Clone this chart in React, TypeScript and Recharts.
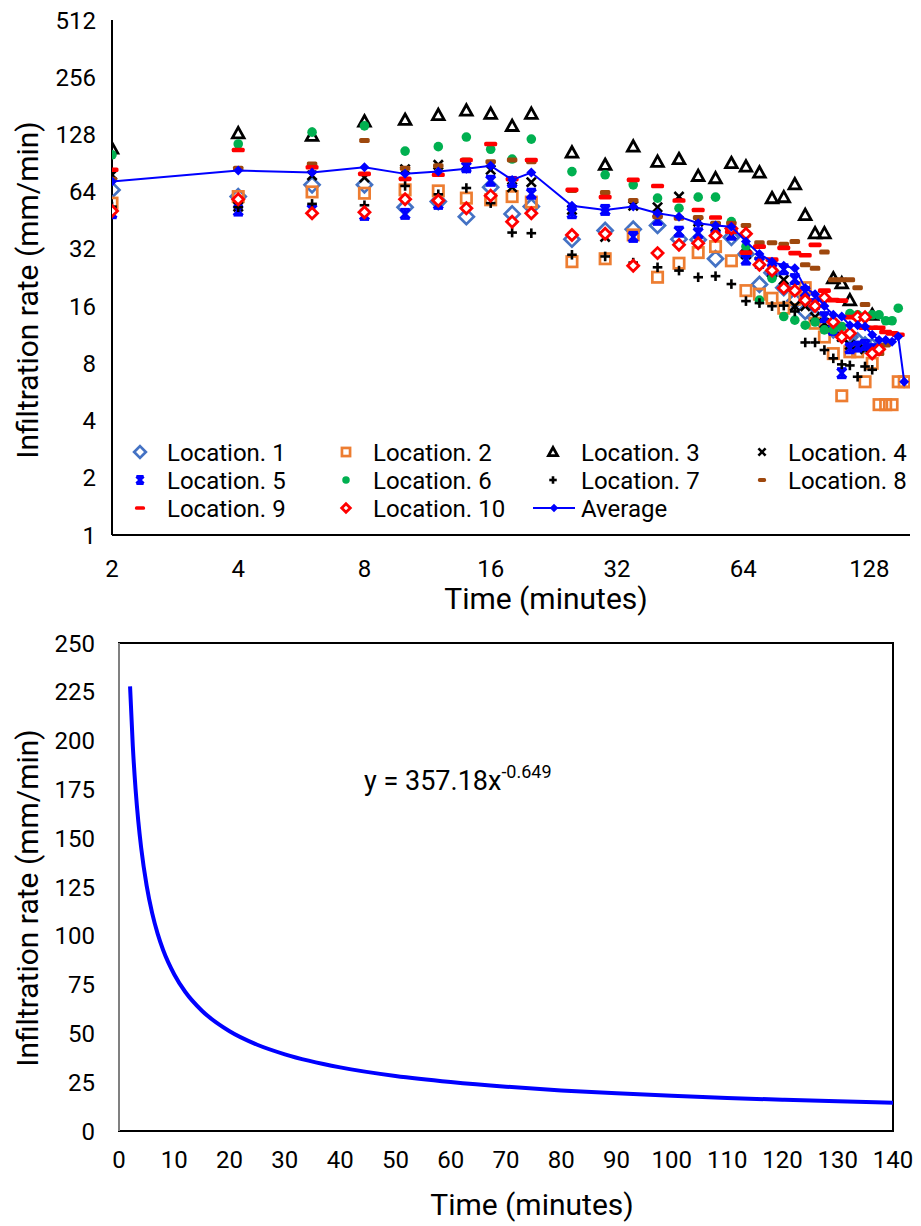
import React from 'react';
import { ScatterChart, Scatter, XAxis, YAxis, LineChart, Line, ReferenceArea, Label } from 'recharts';

const FONT = 'Roboto, "Noto Sans", Arial, sans-serif';

// ---------- top chart data ----------
const TIMES = [2, 4, 6, 8, 10, 12, 14, 16, 18, 20, 25, 30, 35, 40, 45, 50, 55, 60, 65, 70, 75, 80, 85, 90, 95, 100, 105, 110, 115, 120, 125, 130, 135, 140, 145, 150, 155, 160];
const X_TICKS = [2, 4, 8, 16, 32, 64, 128];
const Y_TICKS = [1, 2, 4, 8, 16, 32, 64, 128, 256, 512];

const LOC1 = [65.4, 60.3, 69.5, 69.5, 53, 56.8, 47.3, 67.5, 48.9, 53.4, 36, 40, 40.6, 42.5, 36, 35.7, 28.4, 36.8, 30, 20.8, 24, 20, 17, 15, 14, 13, 12, 11.5, 11, 10.5, 10, 9.8, null, null, null, null, null, null];
const LOC2 = [55.7, 60.3, 63.8, 62.8, 65.4, 64.6, 59.2, 58, 60.3, 56.4, 27.4, 28.4, 37.9, 22.7, 26.9, 30.6, 32.9, 27.7, 19.3, 18.5, 17.6, 15.6, 17.4, 20, 13, 11, 9.0, 5.4, 9.2, 9.2, 6.4, 8.0, 4.85, 4.85, 4.85, 6.4, 6.4, 6.4];
const LOC3 = [108, 130, 126, 150, 152.8, 162, 171, 164.5, 142, 164.5, 102.8, 88.6, 110.6, 92, 95, 77.5, 75.4, 90.5, 86.8, 80.7, 59.2, 59.9, 70, 48.3, 38.7, 38.7, 22.4, 21.1, 17.2, null, null, 14.4, null, null, null, null, null, null];
const LOC4 = [78.5, 53.4, 77.9, 76, 84, 88.6, 88.6, 83.4, 67.5, 71.8, 51.3, 37, 53.9, 53, 60.3, 44.5, 41.9, 37.9, 30, 27.4, 24, 22, 16, 16, 14, 13, 12, 11, 10, 10, 9.5, 9.5, null, null, null, null, null, null];
const LOC5 = [49.3, 50.9, 51.3, 48.3, 48.9, 55.2, 86, 73, 72, 62.4, 49.3, 51.3, 37, 45.5, 39.4, 38.7, 41, 38, 28.1, 27, 25, 25, 22.2, 19, 16.4, 14, 12, 7.1, 9.6, 9.8, 10, 9.5, null, null, null, null, null, null];
const LOC6 = [100, 114, 131.6, 142, 104.6, 110.4, 124, 107, 95, 121, 81.6, 78.5, 69.5, 59.2, 52.4, 59.9, 59.9, 44.5, 32.9, 17.2, 22.4, 14.1, 13.5, 12.7, 13.2, 12, 12, 12.5, 14.6, 14.4, 14.1, 14.4, 14.4, 13.4, 13.4, 15.6, null, null];
const LOC7 = [53.4, 53, 55.2, 54.3, 68.6, 62, 66.9, 55.7, 39, 38.7, 29.8, 29.2, 27.1, 25.6, 24.6, 22.7, 23, 20.9, 17, 16.6, 16, 16.1, 15, 10.3, 10.3, 9.4, 8.5, 7.9, 7.8, 6.8, 7.7, 7.4, null, null, null, null, null, null];
const LOC8 = [74.5, 85, 89.6, 119, 85, 87.6, 94, 92, 94, 92, 65, 63.3, 57.5, 47.3, 46.4, 46.8, 43.7, 43.7, 42.5, 34.5, 34.5, 33.9, 35, 26.4, 25.3, 30.8, 22, 22, 22, 20, 16.3, null, 9.0, 10, null, null, null, null];
const LOC9 = [83.4, 106, 86, 79.4, 74.7, 78.5, 94, 114, 74.5, 94, 65.4, 59.9, 73.8, 68.6, 57.5, 51.3, 46.8, 39.4, 30.6, 32.9, 28.1, 32.4, 30.4, 29.6, 33.6, 19.3, 17.2, 17.1, 14, 14, 12.3, 12.3, 12.3, 11.7, 11.5, 11.3, null, null];
const LOC10 = [50.7, 58.4, 49.3, 49.9, 58.4, 57.5, 52.4, 61, 44.5, 49.3, 37.9, 38.4, 26.1, 30.4, 33.6, 34.3, 37.5, 41, 38.4, 26.4, 24.6, 19.9, 19.3, 17.2, 16, 17.7, 13.2, 11, 11.5, 14, 14, 9.0, 9.5, null, null, null, null, null];
const AVERAGE = [72.4, 82.6, 80.7, 86, 79.4, 81.6, 84.4, 87.6, 73.8, 80.7, 53.9, 51.3, 53.4, 49.3, 47.3, 43.7, 42.5, 41.9, 35, 30.1, 27.4, 26.1, 25.3, 19.9, 18.5, 16, 14.4, 14.1, 12.7, 12.7, 12.5, 11.3, 10.6, 10.6, 10.4, 11.06, 6.4, null];

// ---------- bottom chart data ----------
const FIT_X = [2, 2.5, 3, 3.5, 4, 5, 6, 7, 8, 10, 12, 15, 20, 25, 30, 40, 50, 60, 70, 80, 90, 100, 110, 120, 130, 140];
const FIT_Y = [227.8, 197.1, 175, 158.4, 145.3, 125.7, 111.6, 101, 92.6, 80.2, 71.2, 61.6, 51.1, 44.2, 39.3, 32.6, 28.2, 25.1, 22.7, 20.8, 19.3, 18, 16.9, 16, 15.2, 14.5];
const X2_TICKS = [0, 10, 20, 30, 40, 50, 60, 70, 80, 90, 100, 110, 120, 130, 140];
const Y2_TICKS = [0, 25, 50, 75, 100, 125, 150, 175, 200, 225, 250];

const toPts = (vals: (number | null)[]) =>
  TIMES.map((t, i) => ({ t, v: vals[i] })).filter((p) => p.v != null);

// ---------- marker shapes ----------
type Kind = 'diamond' | 'square' | 'triangle' | 'x' | 'star' | 'circle' | 'plus' | 'dash8' | 'dash9' | 'diamond10' | 'avg';

function Marker({ kind, cx, cy, k = 1 }: { kind: Kind; cx: number; cy: number; k?: number }) {
  switch (kind) {
    case 'diamond': {
      const r = 7.5 * k;
      return <polygon points={`${cx},${cy - r} ${cx + r},${cy} ${cx},${cy + r} ${cx - r},${cy}`} fill="none" stroke="#4472C4" strokeWidth={2.7} />;
    }
    case 'square': {
      const r = 5.2 * k;
      return <rect x={cx - r} y={cy - r} width={2 * r} height={2 * r} fill="none" stroke="#ED7D31" strokeWidth={2.7} />;
    }
    case 'triangle': {
      const r = 5.8 * k;
      return <polygon points={`${cx},${cy - r} ${cx + r},${cy + r * 0.8} ${cx - r},${cy + r * 0.8}`} fill="none" stroke="#000" strokeWidth={2.8} strokeLinejoin="miter" />;
    }
    case 'x': {
      const r = 4.6 * k;
      return (
        <g stroke="#000" strokeWidth={2.6}>
          <line x1={cx - r} y1={cy - r} x2={cx + r} y2={cy + r} />
          <line x1={cx - r} y1={cy + r} x2={cx + r} y2={cy - r} />
        </g>
      );
    }
    case 'star': {
      const r = 4.6 * k;
      return (
        <g stroke="#0000FF" strokeWidth={2.8}>
          <line x1={cx - r} y1={cy - r} x2={cx + r} y2={cy + r} />
          <line x1={cx - r} y1={cy + r} x2={cx + r} y2={cy - r} />
          <line x1={cx} y1={cy - r} x2={cx} y2={cy + r} />
          <line x1={cx - r} y1={cy - r} x2={cx + r} y2={cy - r} />
          <line x1={cx - r} y1={cy + r} x2={cx + r} y2={cy + r} />
        </g>
      );
    }
    case 'circle':
      return <circle cx={cx} cy={cy} r={4.8 * k} fill="#00B050" />;
    case 'plus': {
      const r = 4.8 * k;
      return (
        <g stroke="#000" strokeWidth={2.6}>
          <line x1={cx - r} y1={cy} x2={cx + r} y2={cy} />
          <line x1={cx} y1={cy - r} x2={cx} y2={cy + r} />
        </g>
      );
    }
    case 'dash8': {
      const w = 10.5 * k, h = 5 * k;
      return <rect x={cx - w / 2} y={cy - h / 2} width={w} height={h} rx={1.6} fill="#9E480E" />;
    }
    case 'dash9': {
      const w = 13 * k, h = 4.6 * k;
      return <rect x={cx - w / 2} y={cy - h / 2} width={w} height={h} rx={1.6} fill="#FF0000" />;
    }
    case 'diamond10': {
      const r = 5.5 * k;
      return <polygon points={`${cx},${cy - r} ${cx + r},${cy} ${cx},${cy + r} ${cx - r},${cy}`} fill="#fff" stroke="#FF0000" strokeWidth={2.8} />;
    }
    case 'avg': {
      const r = 5 * k;
      return <polygon points={`${cx},${cy - r} ${cx + r},${cy} ${cx},${cy + r} ${cx - r},${cy}`} fill="#0000FF" />;
    }
  }
  return null;
}

const shapeOf = (kind: Kind) => (props: any) => {
  if (props.cx == null || props.cy == null) return <g />;
  return <Marker kind={kind} cx={props.cx} cy={props.cy} />;
};

const SERIES: { name: string; vals: (number | null)[]; kind: Kind }[] = [
  { name: 'Location. 1', vals: LOC1, kind: 'diamond' },
  { name: 'Location. 2', vals: LOC2, kind: 'square' },
  { name: 'Location. 3', vals: LOC3, kind: 'triangle' },
  { name: 'Location. 4', vals: LOC4, kind: 'x' },
  { name: 'Location. 5', vals: LOC5, kind: 'star' },
  { name: 'Location. 6', vals: LOC6, kind: 'circle' },
  { name: 'Location. 7', vals: LOC7, kind: 'plus' },
  { name: 'Location. 8', vals: LOC8, kind: 'dash8' },
  { name: 'Location. 9', vals: LOC9, kind: 'dash9' },
  { name: 'Location. 10', vals: LOC10, kind: 'diamond10' },
];

const tickStyle = { fontSize: 24, fill: '#000', fontFamily: FONT };

function TopLegend() {
  const colMarker = [140, 346, 553, 762];
  const colText = [167, 373, 581, 788];
  const rowY = [452, 480, 508];
  const items = [...SERIES.map((s) => ({ name: s.name, kind: s.kind as Kind })), { name: 'Average', kind: 'avg' as Kind }];
  return (
    <svg width={921} height={620} style={{ position: 'absolute', left: 0, top: 0, pointerEvents: 'none' }}>
      {items.map((it, i) => {
        const col = i % 4;
        const row = Math.floor(i / 4);
        const mx = colMarker[col];
        const y = rowY[row];
        return (
          <g key={it.name}>
            {it.kind === 'avg' ? (
              <g>
                <line x1={533} y1={y} x2={575} y2={y} stroke="#0000FF" strokeWidth={2} />
                <Marker kind="avg" cx={554} cy={y} k={0.85} />
              </g>
            ) : (
              <Marker kind={it.kind} cx={mx} cy={y} k={0.78} />
            )}
            <text x={colText[col]} y={y} dy="0.36em" fontSize={24} fontFamily={FONT} fill="#000">
              {it.name}
            </text>
          </g>
        );
      })}
    </svg>
  );
}

function TopChart() {
  return (
    <div style={{ position: 'absolute', left: 0, top: 0, width: 921, height: 620 }}>
      <ScatterChart width={921} height={620} margin={{ top: 20, right: 11, bottom: 0, left: 0 }}>
        <XAxis
          type="number"
          dataKey="t"
          scale="log"
          domain={[2, 160]}
          ticks={X_TICKS}
          allowDataOverflow
          height={85}
          tickLine={false}
          tickSize={6}
          tickMargin={19}
          axisLine={{ stroke: '#000', strokeWidth: 2 }}
          tick={tickStyle}
          interval={0}
        >
          <Label
            content={() => (
              <text x={546} y={598} dy="0.36em" textAnchor="middle" fontSize={30} fontFamily={FONT} fill="#000">
                Time (minutes)
              </text>
            )}
          />
        </XAxis>
        <YAxis
          type="number"
          dataKey="v"
          scale="log"
          domain={[1, 512]}
          ticks={Y_TICKS}
          allowDataOverflow
          width={112}
          tickLine={false}
          tickSize={6}
          tickMargin={10}
          axisLine={{ stroke: '#000', strokeWidth: 2 }}
          tick={tickStyle}
          interval={0}
        >
          <Label
            content={() => (
              <text x={27} y={290} dy="0.36em" textAnchor="middle" fontSize={30} fontFamily={FONT} fill="#000" transform="rotate(-90 27 290)">
                Infiltration rate (mm/min)
              </text>
            )}
          />
        </YAxis>
        {SERIES.map((s) => (
          <Scatter key={s.name} name={s.name} data={toPts(s.vals)} dataKey="v" shape={shapeOf(s.kind)} isAnimationActive={false} />
        ))}
        <Scatter
          name="Average"
          data={toPts(AVERAGE)}
          dataKey="v"
          line={{ stroke: '#0000FF', strokeWidth: 2 }}
          lineJointType="linear"
          shape={shapeOf('avg')}
          isAnimationActive={false}
        />
      </ScatterChart>
      <TopLegend />
    </div>
  );
}

function BottomChart() {
  const data = FIT_X.map((x, i) => ({ x, y: FIT_Y[i] }));
  return (
    <div style={{ position: 'absolute', left: 0, top: 620, width: 921, height: 606 }}>
      <LineChart width={921} height={606} data={data} margin={{ top: 23, right: 28, bottom: 0, left: 0 }}>
        <ReferenceArea x1={0} x2={140} y1={0} y2={250} fill="none" stroke="#000" strokeWidth={2} ifOverflow="extendDomain" />
        <XAxis
          type="number"
          dataKey="x"
          domain={[0, 140]}
          ticks={X2_TICKS}
          height={95}
          tickLine={false}
          tickSize={6}
          tickMargin={14}
          axisLine={{ stroke: '#000', strokeWidth: 2 }}
          tick={tickStyle}
          interval={0}
        >
          <Label
            content={() => (
              <text x={532} y={584} dy="0.36em" textAnchor="middle" fontSize={30} fontFamily={FONT} fill="#000">
                Time (minutes)
              </text>
            )}
          />
        </XAxis>
        <YAxis
          type="number"
          domain={[0, 250]}
          ticks={Y2_TICKS}
          width={119}
          tickLine={false}
          tickSize={6}
          tickMargin={18}
          axisLine={{ stroke: '#808080', strokeWidth: 2 }}
          tick={tickStyle}
          interval={0}
        >
          <Label
            content={() => (
              <text x={27} y={278} dy="0.36em" textAnchor="middle" fontSize={30} fontFamily={FONT} fill="#000" transform="rotate(-90 27 278)">
                Infiltration rate (mm/min)
              </text>
            )}
          />
        </YAxis>
        <Line type="monotone" dataKey="y" stroke="#0000FF" strokeWidth={4} dot={false} isAnimationActive={false} />
      </LineChart>
      <svg width={921} height={606} style={{ position: 'absolute', left: 0, top: 0, pointerEvents: 'none' }}>
        <text x={364} y={170} fontSize={27} fontFamily={FONT} fill="#000">
          y = 357.18x
          <tspan fontSize={18} dy={-12}>-0.649</tspan>
        </text>
      </svg>
    </div>
  );
}

export default function App() {
  return (
    <div style={{ position: 'absolute', left: 0, top: 0, width: 921, height: 1226, background: '#fff' }}>
      <TopChart />
      <BottomChart />
    </div>
  );
}
